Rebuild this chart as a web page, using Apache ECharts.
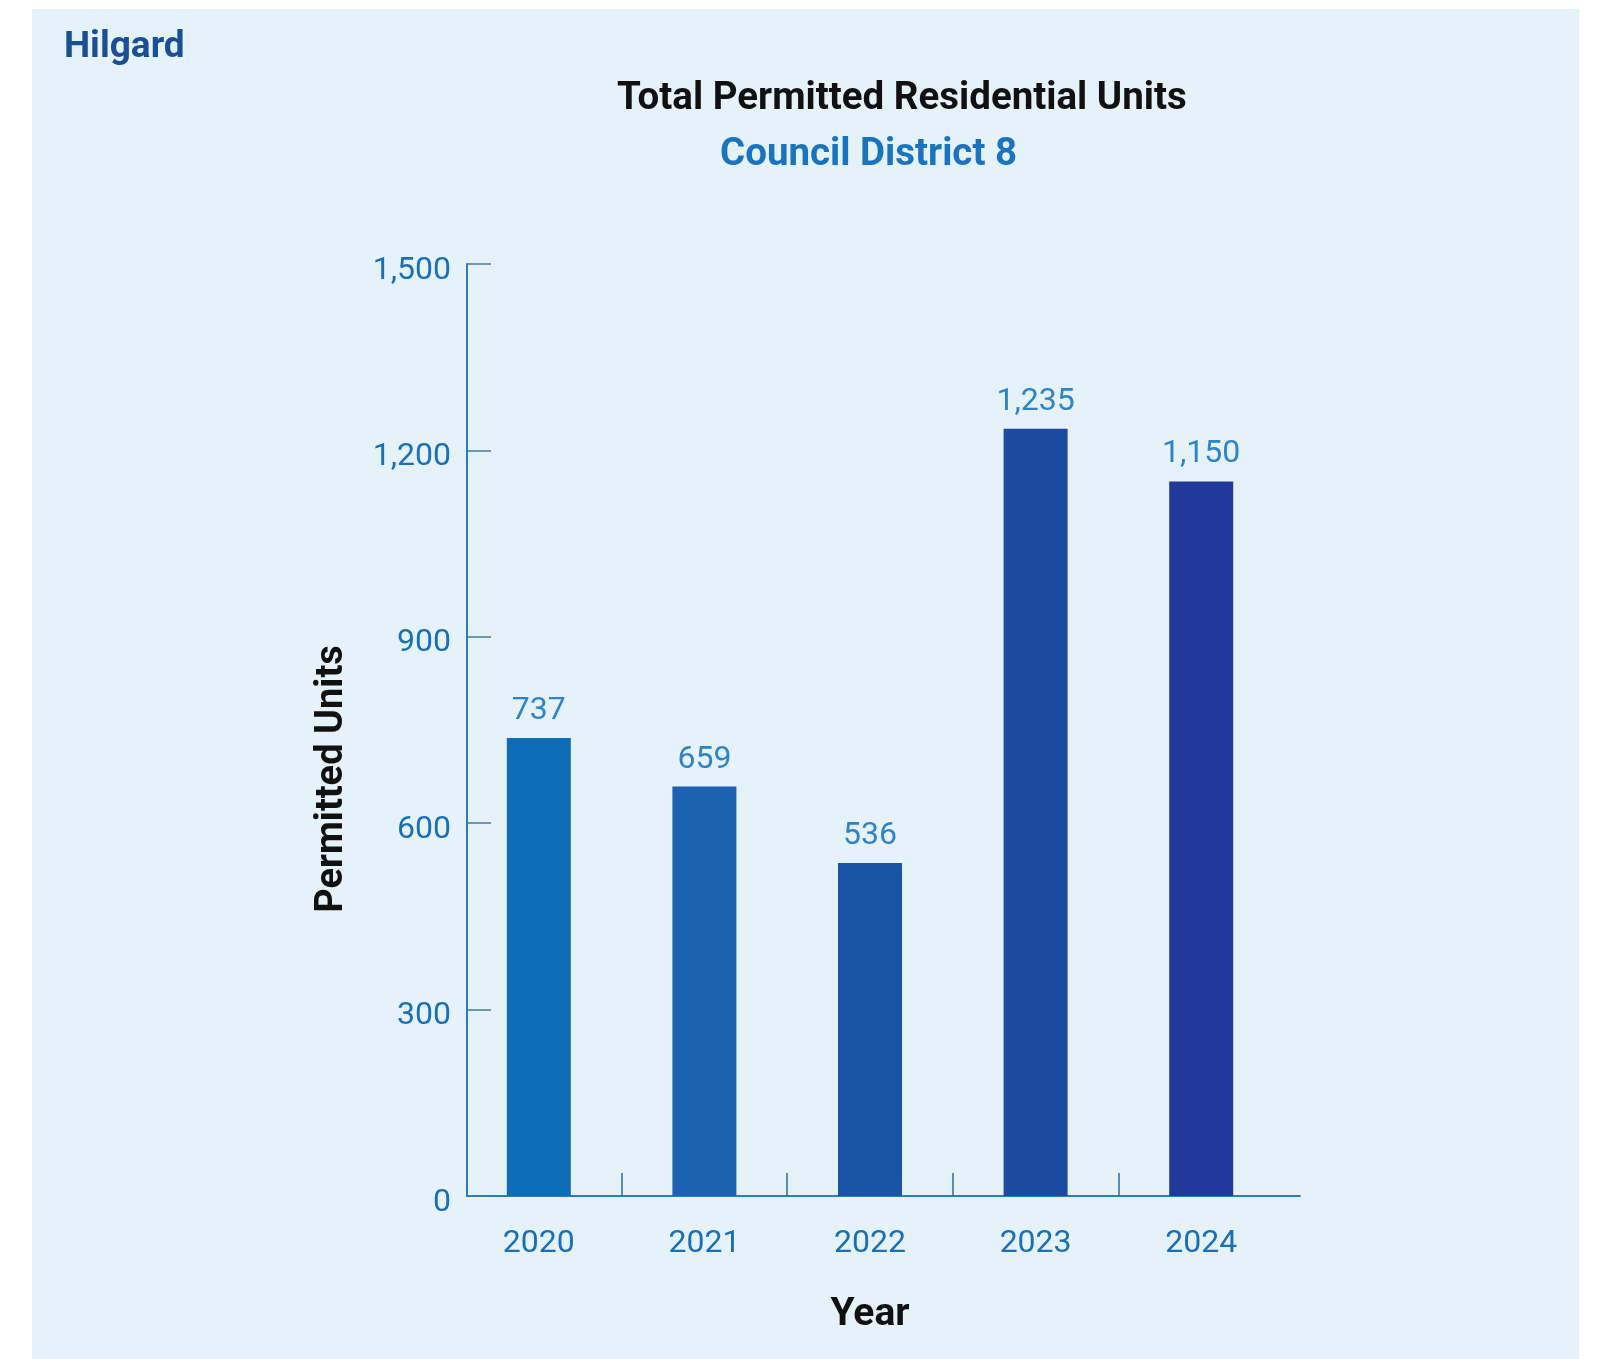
<!DOCTYPE html>
<html>
<head>
<meta charset="utf-8">
<title>Total Permitted Residential Units</title>
<script src="https://cdn.jsdelivr.net/npm/echarts@6/dist/echarts.min.js"></script>
<style>
  html, body { margin: 0; padding: 0; background: #ffffff; }
  #chart { width: 1603px; height: 1359px; }
</style>
</head>
<body>
<div id="chart"></div>
<script>
// data
const years = ['2020', '2021', '2022', '2023', '2024']
const units = [737, 659, 536, 1235, 1150]
const barColors = ['#0f6db8', '#1c62b0', '#1a55a5', '#1b4aa0', '#22389a']
const yTicks = { min: 0, max: 1500, interval: 300 }

const fmt = v => Number(v).toLocaleString('en-US')
const font = 'Roboto, "Noto Sans", sans-serif'

// plot area of the bars
const plotLeft = 456
const plotWidth = 828
const band = plotWidth / years.length

const chart = echarts.init(document.getElementById('chart'))

const options = {
  backgroundColor: '#ffffff',
  textStyle: { fontFamily: font },
  graphic: [
    {
      type: 'rect',
      z: -10,
      silent: true,
      shape: { x: 32, y: 9, width: 1547, height: 1350 },
      style: { fill: '#e5f2fa' }
    }
  ],
  title: [
    {
      text: 'Hilgard',
      left: 59, top: 24,
      textStyle: { fontSize: 37, fontWeight: 'bold', color: '#1b4f93', fontFamily: font }
    },
    {
      text: 'Total Permitted Residential Units',
      left: 612, top: 75,
      textStyle: { fontSize: 38.5, fontWeight: 'bold', color: '#111111', fontFamily: font }
    },
    {
      text: 'Council District 8',
      left: 715, top: 131,
      textStyle: { fontSize: 38.5, fontWeight: 'bold', color: '#1a73bf', fontFamily: font }
    }
  ],
  grid: [
    { left: plotLeft, width: plotWidth, top: 264, bottom: 163 },
    // x axis line, runs a bit past the bars on the right
    { left: 467, right: 303, top: 264, bottom: 163 },
    // separators between the years
    { left: plotLeft + band, width: plotWidth - 2 * band, top: 264, bottom: 163 }
  ],
  xAxis: [
    {
      type: 'category',
      gridIndex: 0,
      data: years,
      axisLine: { show: false },
      axisTick: { show: false },
      axisLabel: { fontSize: 32, color: '#1a6fb5', margin: 32 },
      name: 'Year',
      nameLocation: 'middle',
      nameGap: 100,
      nameTextStyle: { fontSize: 39, fontWeight: 'bold', color: '#111111' }
    },
    {
      type: 'value',
      gridIndex: 1,
      min: 0, max: 1,
      axisLine: { show: true, lineStyle: { color: '#2a7cc7', width: 2 } },
      axisTick: { show: false },
      axisLabel: { show: false },
      splitLine: { show: false }
    },
    {
      type: 'value',
      gridIndex: 2,
      min: 1, max: years.length - 1, interval: 1,
      axisLine: { show: false },
      axisTick: { show: true, inside: true, length: 23, lineStyle: { color: '#2f6d9e', width: 1.5 } },
      axisLabel: { show: false },
      splitLine: { show: false }
    }
  ],
  yAxis: [
    {
      type: 'value',
      gridIndex: 0,
      min: yTicks.min,
      max: yTicks.max,
      interval: yTicks.interval,
      offset: -11,
      axisLine: { show: true, lineStyle: { color: '#2a7cc7', width: 2 } },
      axisTick: { show: true, inside: true, length: 24, lineStyle: { color: '#3f7f94', width: 1.5 } },
      axisLabel: {
        fontSize: 32, color: '#1a6fb5', margin: 16,
        verticalAlign: 'top', lineHeight: 13,
        formatter: fmt
      },
      splitLine: { show: false },
      name: 'Permitted Units',
      nameLocation: 'middle',
      nameGap: 116,
      nameTextStyle: { fontSize: 38, fontWeight: 'bold', color: '#111111', padding: [0, 98, 0, 0] }
    },
    { type: 'value', gridIndex: 1, show: false },
    { type: 'value', gridIndex: 2, show: false }
  ],
  series: [
    {
      type: 'bar',
      xAxisIndex: 0,
      yAxisIndex: 0,
      barWidth: 64,
      data: units.map((v, i) => ({ value: v, itemStyle: { color: barColors[i] } })),
      label: {
        show: true,
        position: 'top',
        distance: 11,
        fontSize: 32,
        color: '#2e84c6',
        formatter: p => fmt(p.value)
      }
    }
  ]
}

chart.setOption(options)

window.addEventListener('resize', function () {
  chart.resize()
})
</script>
</body>
</html>
